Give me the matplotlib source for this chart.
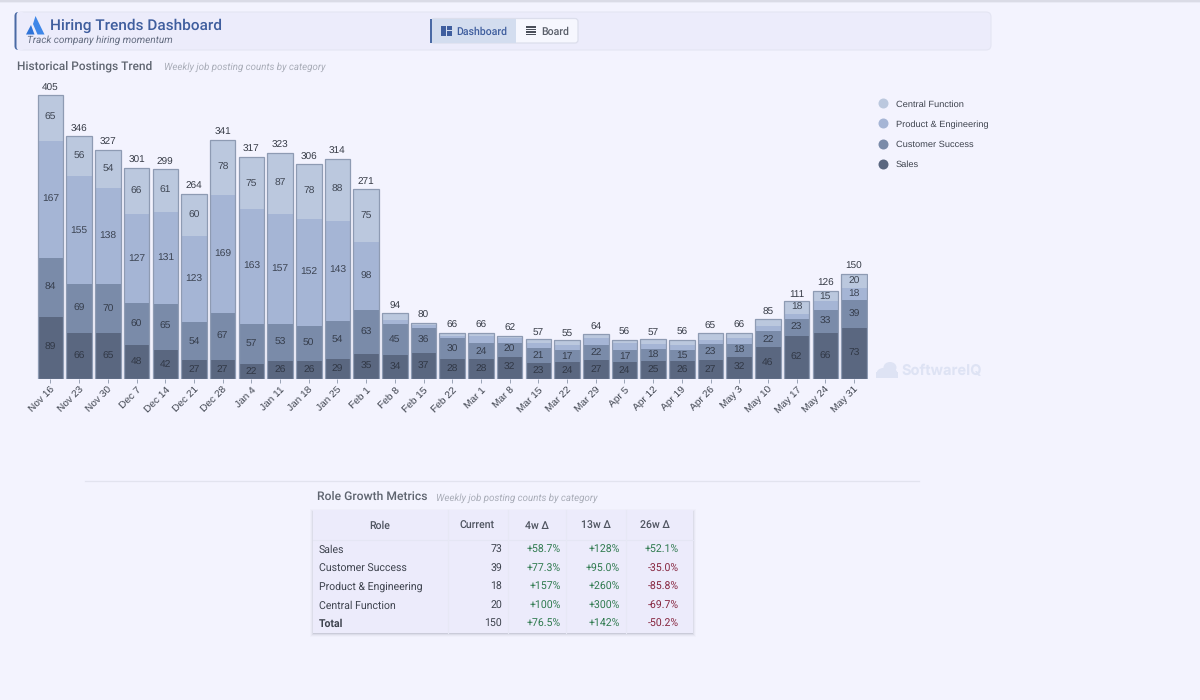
import matplotlib
matplotlib.use("Agg")
import matplotlib.pyplot as plt
from matplotlib.patches import Rectangle, FancyBboxPatch, Polygon, Circle, Ellipse
from matplotlib.lines import Line2D

plt.rcParams["text.hinting"] = "no_hinting"
plt.rcParams["text.hinting_factor"] = 8

weeks = ["Nov 16","Nov 23","Nov 30","Dec 7","Dec 14","Dec 21","Dec 28","Jan 4","Jan 11","Jan 18",
         "Jan 25","Feb 1","Feb 8","Feb 15","Feb 22","Mar 1","Mar 8","Mar 15","Mar 22","Mar 29",
         "Apr 5","Apr 12","Apr 19","Apr 26","May 3","May 10","May 17","May 24","May 31"]
sales = [89,66,65,48,42,27,27,22,26,26,29,35,34,37,28,28,32,23,24,27,24,25,26,27,32,46,62,66,73]
customer = [84,69,70,60,65,54,67,57,53,50,54,63,45,36,30,24,20,21,17,22,17,18,15,23,18,22,23,33,39]
product = [167,155,138,127,131,123,169,163,157,152,143,98,5,4,4,9,6,7,7,9,10,7,8,6,8,7,8,12,18]
central = [65,56,54,66,61,60,78,75,87,78,88,75,10,3,4,5,4,6,7,6,5,7,7,9,8,10,18,15,20]
series_names = ["Sales","Customer Success","Product & Engineering","Central Function"]
series_values = [sales, customer, product, central]
series_colors = ["#5A6780","#7A8BA9","#A5B5D5","#BBC8DE"]
label_min = 15

table_headers = ["Role","Current","4w Δ","13w Δ","26w Δ"]
table_roles = ["Sales","Customer Success","Product & Engineering","Central Function","Total"]
table_current = ["73","39","18","20","150"]
table_4w = ["+58.7%","+77.3%","+157%","+100%","+76.5%"]
table_13w = ["+128%","+95.0%","+260%","+300%","+142%"]
table_26w = ["+52.1%","-35.0%","-85.8%","-69.7%","-50.2%"]

BG = "#F3F3FE"
UI = "Roboto"
CH = "Liberation Sans"
VA = "center_baseline"

fig = plt.figure(figsize=(12, 7), dpi=100, facecolor=BG)

# page overlay in pixel coordinates
ov = fig.add_axes([0, 0, 1, 1], zorder=0)
ov.set_xlim(0, 1200); ov.set_ylim(700, 0); ov.axis("off")

# top strip
ov.add_patch(Rectangle((0, 0), 1200, 1.5, fc="#DADBE6", ec="none"))
ov.add_patch(Rectangle((0, 1.5), 1200, 1.5, fc="#E9EAF5", ec="none"))

# header
ov.add_patch(FancyBboxPatch((17, 12), 974, 38, boxstyle="round,pad=0,rounding_size=5",
                            fc="#ECECFB", ec="#E4E5F3", lw=0.8))
ov.add_patch(FancyBboxPatch((14.5, 12), 6, 38, boxstyle="round,pad=0,rounding_size=4",
                            fc="#4A6AA5", ec="none"))
ov.add_patch(FancyBboxPatch((16.5, 11.5), 8, 39, boxstyle="round,pad=0,rounding_size=4",
                            fc="#ECECFB", ec="none"))
ov.add_patch(Polygon([[35.5, 16], [44.5, 34.5], [37.5, 34.5], [33, 24]], fc="#3F87E8", ec="none"))
ov.add_patch(Polygon([[31, 25], [34.5, 34.5], [26, 34.5]], fc="#2F74D8", ec="none"))
ov.text(50, 25.5, "Hiring Trends Dashboard", family=UI, fontsize=11.1, weight="medium",
        color="#3F5E9E", va="center", ha="left")
ov.text(27, 40, "Track company hiring momentum", family=UI, fontsize=7.2, style="italic",
        color="#636C80", va="center", ha="left")

# toggle
ov.add_patch(FancyBboxPatch((431, 18.5), 147, 24.5, boxstyle="round,pad=0,rounding_size=3",
                            fc="#F6F7FE", ec="#DCDEEC", lw=0.9))
ov.add_patch(Rectangle((431, 18.5), 84.5, 24.5, fc="#D3DDEF", ec="none"))
ov.add_patch(Rectangle((430.2, 18.5), 1.6, 24.5, fc="#4A6AA5", ec="none"))
for x, y, w, h in [(441, 26, 5, 6.5), (447, 26, 4.5, 3.5), (447, 30.5, 4.5, 5), (441, 33, 5, 2.5)]:
    ov.add_patch(Rectangle((x, y), w, h, fc="#3F5E9E", ec="none"))
for y in [27, 29.5, 32, 34.5]:
    ov.add_patch(Rectangle((526, y - 0.8), 10, 1.7, fc="#4A4F5A", ec="none"))
ov.text(456, 31, "Dashboard", family=UI, fontsize=7.6, weight="medium", color="#3F5E9E",
        va=VA, ha="left")
ov.text(541, 31, "Board", family=UI, fontsize=7.6, weight="medium", color="#5A5F6A",
        va=VA, ha="left")

# section titles
ov.text(17, 66, "Historical Postings Trend", family=UI, fontsize=8.6, weight="medium",
        color="#5F6570", va="center", ha="left")
ov.text(164, 67, "Weekly job posting counts by category", family=UI, fontsize=7.0, style="italic",
        color="#A9ADB8", va="center", ha="left")
ov.plot([85, 919], [481, 481], color="#E2E3EF", lw=0.9)
ov.text(317, 497, "Role Growth Metrics", family=UI, fontsize=8.7, weight="medium",
        color="#5F6570", va="center", ha="left")
ov.text(436, 498, "Weekly job posting counts by category", family=UI, fontsize=7.05, style="italic",
        color="#A9ADB8", va="center", ha="left")

# watermark
wm = "#DEE3F4"
ov.add_patch(Ellipse((887, 372), 20, 9, fc=wm, ec="none"))
ov.add_patch(Ellipse((890, 367.5), 13, 11, fc=wm, ec="none"))
ov.add_patch(Rectangle((876, 372), 22, 6, fc=wm, ec="none"))
ov.text(901, 371.5, "SoftwareIQ", family="Inter", fontsize=10.5, weight="bold", color=wm,
        va="center", ha="left")

# table
for i, a in enumerate([0.025, 0.04, 0.07, 0.12]):
    d = 3 - i
    ov.add_patch(Rectangle((313 - d, 510 + 2 - d), 380 + 2 * d, 122 + 2 * d, fc="#4A4F66", alpha=a, ec="none"))
ov.add_patch(Rectangle((313, 510), 380, 123, fc="#ECEBFB", ec="none"))
ov.plot([313, 693], [539.5, 539.5], color="#E5E6F4", lw=0.8)
for x in [448, 508, 566, 626]:
    ov.plot([x, x], [510, 633], color="#E7E8F5", lw=0.8)
hdr_x = [380, 477, 537, 596, 655]
for x, t in zip(hdr_x, table_headers):
    ov.text(x, 524.5, t, family=UI, fontsize=7.6, weight="medium", color="#4F5460", va=VA, ha="center")
row_y = [549, 567.5, 586, 604.5, 623]
GREEN, RED = "#2F7A4F", "#86263F"
for i, y in enumerate(row_y):
    bold = table_roles[i] == "Total"
    ov.text(319, y, table_roles[i], family=UI, fontsize=7.6, weight="bold" if bold else "normal",
            color="#3E434E", va=VA, ha="left")
    ov.text(502, y, table_current[i], family=UI, fontsize=7.6, color="#3E434E", va=VA, ha="right")
    for x, col in zip([561, 620, 679], [table_4w, table_13w, table_26w]):
        ov.text(x, y, col[i], family=UI, fontsize=7.6, color=GREEN if col[i][0] == "+" else RED,
                va=VA, ha="right")

# chart
PXU = 284 / 405
ax = fig.add_axes([36.15 / 1200, (700 - 379) / 700, (868.35 - 36.15) / 1200, 294 / 700], zorder=2)
ax.patch.set_alpha(0)
ax.set_xlim(-0.5, len(weeks) - 0.5)
ax.set_ylim(0, 294 / PXU)
for s in ax.spines.values():
    s.set_visible(False)
xs = list(range(len(weeks)))
BW = 0.89
base = [0] * len(weeks)
for name, vals, col in zip(series_names, series_values, series_colors):
    ax.bar(xs, vals, BW, bottom=base, color=col, edgecolor="none", label=name, zorder=2)
    for x, b, v in zip(xs, base, vals):
        if v >= label_min:
            ax.text(x, b + v / 2, str(v), ha="center", va="center", family=CH, fontsize=7.4,
                    color="#2A303C", alpha=0.85, zorder=4)
    base = [b + v for b, v in zip(base, vals)]
ax.bar(xs, base, BW, fill=False, edgecolor="#8E9BB3", linewidth=0.9, zorder=3)
for x, t in zip(xs, base):
    ax.annotate(str(t), (x, t), xytext=(0, 1.8), textcoords="offset points", ha="center", va="bottom",
                family=CH, fontsize=7.2, color="#363B46")
ax.set_yticks([])
ax.set_xticks(xs)
ax.set_xticklabels(weeks, rotation=45, ha="right", rotation_mode="anchor", family=CH,
                   fontsize=7.3, color="#3E434E")
ax.tick_params(axis="x", length=3, width=0.7, color="#9AA3B5", pad=1.5)

handles = [Line2D([], [], ls="none", marker="o", ms=7.2, mfc=c, mec="none", label=n)
           for n, c in zip(series_names[::-1], series_colors[::-1])]
fig.legend(handles=handles, loc="upper left", bbox_to_anchor=(874 / 1200, (700 - 100) / 700),
           frameon=False, prop={"family": CH, "size": 6.7}, labelspacing=1.27, handletextpad=0.32,
           handlelength=2.0, borderpad=0, borderaxespad=0, labelcolor="#3E434E")

fig.savefig("out.png", dpi=100, facecolor=BG)
